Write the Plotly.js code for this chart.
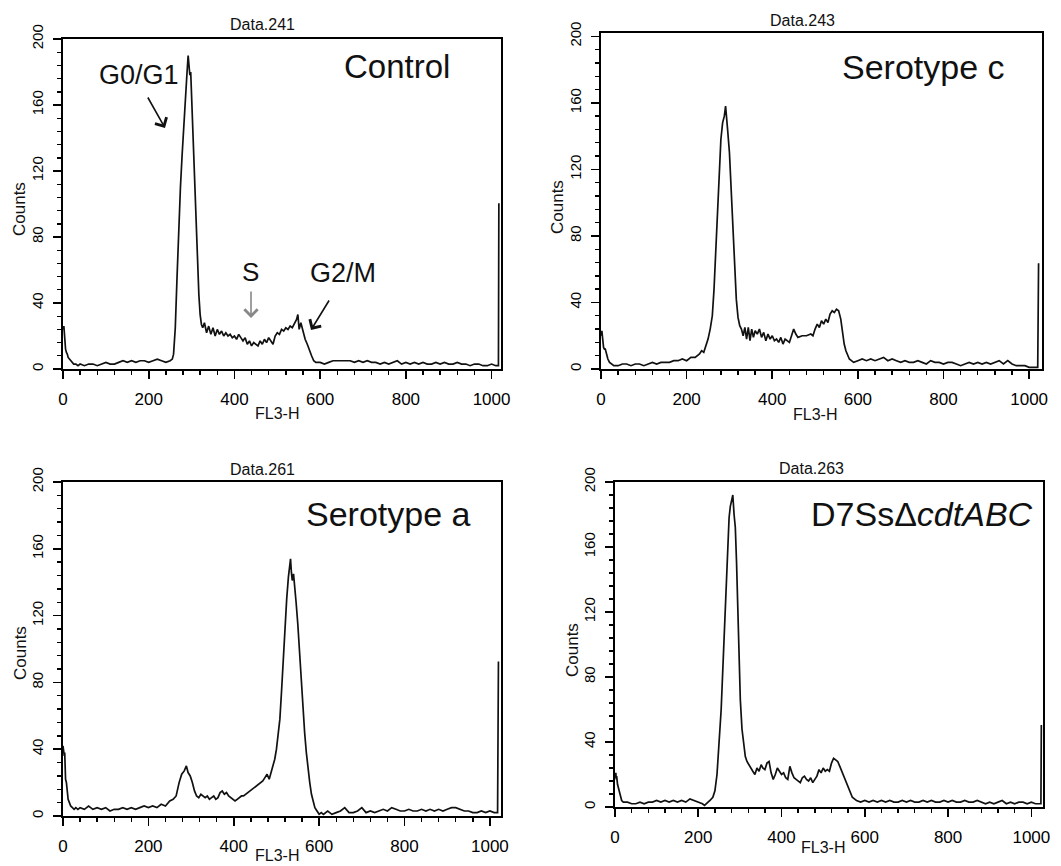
<!DOCTYPE html>
<html><head><meta charset="utf-8">
<script src="https://cdn.plot.ly/plotly-3.0.1.min.js"></script>
<style>html,body{margin:0;padding:0;background:#fff}#chart{width:1061px;height:866px}</style>
</head><body><div id="chart"></div>
<script>
// ---- Control (Data.241) ----
const ctrlX=[0,1,2,3,4,5,6,8,10,12,15,18,20,25,30,35,40,50,60,70,80,90,100,110,120,130,140,150,160,170,180,190,200,210,220,230,240,250,255,258,262,266,270,274,278,282,286,289,292,294,296,298,300,302,305,308,311,314,317,320,323,326,330,335,340,345,350,355,360,365,370,375,380,385,390,395,400,405,410,415,420,425,430,435,440,445,450,455,460,465,470,475,480,485,490,495,500,505,510,515,520,525,530,535,540,545,548,551,555,560,565,570,575,580,585,590,600,610,620,630,640,650,660,670,680,690,700,710,720,730,740,750,760,770,780,790,800,810,820,830,840,850,860,870,880,890,900,910,920,930,940,950,960,970,980,990,1000,1010,1016,1017,1019];
const ctrlY=[25,24,26,22,25,18,12,10,9,7,6,5,4,3,3,2,3,2,3,3,2,3,4,3,3,4,5,4,5,4,5,5,4,5,6,5,4,5,6,9,25,55,85,110,130,150,168,178,190,182,178,180,165,150,128,105,82,62,45,33,27,25,28,22,26,21,25,20,24,21,23,20,22,20,21,19,20,18,21,19,17,19,15,17,14,16,15,14,17,15,18,16,19,17,15,20,22,21,24,23,25,24,26,25,28,30,33,24,28,22,18,15,11,8,5,4,4,3,4,5,5,5,5,5,4,5,4,5,4,4,3,4,3,4,5,3,4,3,4,3,4,3,3,4,3,4,3,3,4,3,3,2,3,3,2,2,3,2,2,100,100];

// ---- Serotype c (Data.243) ----
const serocX=[0,1,2,3,4,5,6,8,10,13,16,20,25,30,40,50,60,70,80,90,100,110,120,130,140,150,160,170,180,190,200,210,220,230,235,240,245,250,255,260,264,268,272,276,280,284,288,291,293,296,300,304,308,312,316,320,324,328,332,336,340,344,348,352,356,360,365,370,375,380,385,390,395,400,405,410,415,420,425,430,435,440,445,450,455,460,470,480,490,495,500,505,510,515,520,525,530,535,540,545,550,555,560,564,568,572,576,580,585,590,600,610,620,630,640,650,660,670,680,690,700,710,720,730,740,750,760,770,780,790,800,810,820,830,840,850,860,870,880,890,900,910,920,930,940,950,960,970,980,990,1000,1010,1020,1022,1024];
const serocY=[22,20,23,19,21,15,13,12,12,9,6,4,3,2,2,3,3,2,3,3,2,3,4,3,4,4,4,5,5,6,5,7,7,9,11,10,14,18,24,32,48,70,97,120,138,148,152,158,150,143,130,108,84,60,42,31,26,24,20,25,18,25,17,24,19,23,21,24,19,22,17,21,18,20,17,18,16,19,15,18,17,16,20,24,21,19,20,20,21,20,24,27,25,29,27,30,28,33,35,34,36,35,30,22,15,11,8,6,5,4,5,6,5,6,5,6,7,5,6,5,4,5,4,4,5,4,3,5,4,4,3,4,4,3,2,3,4,3,4,3,4,3,4,5,3,5,3,2,2,2,1,1,1,63,63];

// ---- Serotype a (Data.261) ----
const seroaX=[0,1,2,3,4,5,6,8,10,12,15,18,22,26,30,35,40,50,60,70,80,90,100,110,120,130,140,150,160,170,180,190,200,210,220,230,240,250,258,265,272,278,284,289,293,298,303,308,313,318,323,328,333,338,343,348,353,358,363,368,373,378,383,388,393,398,403,408,413,418,423,428,433,438,443,448,453,458,463,468,473,478,483,488,492,496,500,504,508,512,516,520,524,528,531,533,535,537,540,543,546,550,554,558,562,566,570,574,578,582,586,590,595,600,605,610,620,630,640,650,660,670,680,690,700,710,720,730,740,750,760,770,780,790,800,810,820,830,840,850,860,870,880,890,900,910,920,930,940,950,960,970,980,990,1000,1010,1018,1020,1022];
const seroaY=[42,38,40,36,38,30,22,20,15,10,8,6,5,4,5,4,5,4,6,4,5,4,5,3,4,4,5,4,5,4,5,6,5,6,5,7,6,9,10,12,20,25,27,30,26,24,20,15,12,11,13,12,11,12,10,11,12,10,11,14,15,13,14,12,11,10,9,10,11,12,12,13,14,15,16,17,18,19,20,21,23,25,22,27,30,34,40,48,58,75,95,115,130,143,150,154,146,141,145,138,128,115,98,80,63,50,38,28,20,13,8,5,3,1,2,1,3,1,2,3,5,2,2,3,5,2,3,2,3,4,3,5,4,3,3,4,3,3,4,3,4,3,4,3,4,5,5,4,3,3,2,2,3,2,3,2,2,92,92];

// ---- D7SsΔcdtABC (Data.263) ----
const d7X=[0,1,2,3,4,6,8,10,13,16,20,30,40,50,60,70,80,90,100,110,120,130,140,150,160,170,180,190,200,210,215,220,228,235,240,245,250,255,259,263,267,271,274,277,280,283,286,289,292,295,298,301,305,309,313,317,321,326,331,336,341,346,351,355,360,365,370,375,380,385,390,395,400,405,410,415,420,425,430,435,440,445,450,455,460,465,470,475,480,485,490,495,500,505,510,515,520,525,530,535,540,545,550,555,560,565,570,575,580,590,600,610,620,630,640,650,660,670,680,690,700,710,720,730,740,750,760,770,780,790,800,810,820,830,840,850,860,870,880,890,900,910,920,930,940,950,960,970,980,990,1000,1010,1020,1023,1024,1026];
const d7Y=[20,18,21,17,19,14,12,10,6,4,3,3,2,2,3,2,3,3,4,3,4,3,4,3,4,3,5,4,3,2,1,2,4,6,10,20,38,60,85,110,140,165,178,185,190,192,180,172,150,120,90,66,48,38,31,28,26,24,22,20,24,22,26,24,23,27,28,21,17,20,24,22,20,21,18,17,25,21,18,17,16,15,18,19,17,16,18,15,17,19,23,21,24,22,23,22,27,30,29,28,25,22,19,15,12,9,6,5,4,3,4,3,4,3,4,3,4,3,3,4,3,4,3,3,4,3,4,3,3,4,3,4,3,3,4,3,3,4,3,2,3,2,3,4,2,3,2,3,3,2,3,2,2,2,50,50];

const W=1061,H=866;
const px=v=>v/W, py=v=>1-v/H;
const FONT='"Liberation Sans", Arial, sans-serif';
const NARROW='"Liberation Sans Narrow", "Liberation Sans", Arial, sans-serif';

const panels=[
  {x:ctrlX,y:ctrlY,title:'Data.241',L:63,R:501,T:39,B:369,xr:[0,1022],yr:[0,200],tt:[262,25],ct:[20,209],ft:[277,413]},
  {x:serocX,y:serocY,title:'Data.243',L:601,R:1042,T:33,B:369,xr:[0,1030],yr:[0,202],tt:[802,20],ct:[557,207],ft:[815,415]},
  {x:seroaX,y:seroaY,title:'Data.261',L:63,R:501,T:482,B:816,xr:[0,1026],yr:[0,200],tt:[262,469],ct:[20,653],ft:[277,855]},
  {x:d7X,y:d7Y,title:'Data.263',L:615,R:1043,T:482,B:807,xr:[0,1028],yr:[0,200],tt:[811,468],ct:[572,650],ft:[823,847]}
];

const data=[];
const layout={width:W,height:H,margin:{l:0,r:0,t:0,b:0},paper_bgcolor:'#fff',plot_bgcolor:'#fff',showlegend:false,annotations:[],font:{family:FONT,color:'#000'}};

panels.forEach((p,i)=>{
  const n=i===0?'':String(i+1);
  data.push({x:p.x,y:p.y,type:'scatter',mode:'lines',line:{color:'#111',width:1.7},xaxis:'x'+n,yaxis:'y'+n,hoverinfo:'skip'});
  layout['xaxis'+n]={domain:[px(p.L),px(p.R)],range:p.xr,anchor:'y'+n,showline:true,mirror:true,linecolor:'#000',linewidth:1.8,
    ticks:'outside',ticklen:8,tickwidth:1.6,tickcolor:'#000',tick0:0,dtick:200,ticklabelstandoff:6,
    minor:{dtick:40,ticks:'outside',ticklen:4,tickwidth:1.4,tickcolor:'#000'},
    showgrid:false,zeroline:false,tickfont:{family:FONT,size:17,color:'#000'},fixedrange:true};
  layout['yaxis'+n]={domain:[py(p.B),py(p.T)],range:p.yr,anchor:'x'+n,showline:true,mirror:true,linecolor:'#000',linewidth:1.8,
    ticks:'outside',ticklen:8,tickwidth:1.6,tickcolor:'#000',tick0:0,dtick:40,tickangle:-90,ticklabelstandoff:4,
    minor:{dtick:8,ticks:'outside',ticklen:4,tickwidth:1.4,tickcolor:'#000'},
    showgrid:false,zeroline:false,tickfont:{family:NARROW,size:15,color:'#000'},fixedrange:true};
  layout.annotations.push({xref:'paper',yref:'paper',x:px(p.tt[0]),y:py(p.tt[1]),text:p.title,showarrow:false,xanchor:'center',yanchor:'middle',font:{family:FONT,size:16,color:'#111'}});
  layout.annotations.push({xref:'paper',yref:'paper',x:px(p.ct[0]),y:py(p.ct[1]),text:'Counts',textangle:-90,showarrow:false,xanchor:'center',yanchor:'middle',font:{family:NARROW,size:17,color:'#111'}});
  layout.annotations.push({xref:'paper',yref:'paper',x:px(p.ft[0]),y:py(p.ft[1]),text:'FL3-H',showarrow:false,xanchor:'center',yanchor:'middle',font:{family:FONT,size:16,color:'#111'}});
});

// panel labels
const labels=[
  {t:'Control',x:397,y:67,s:33},
  {t:'G0/G1',x:139,y:75,s:27},
  {t:'S',x:250,y:272,s:26},
  {t:'G2/M',x:343,y:273,s:27},
  {t:'Serotype c',x:923,y:67,s:34},
  {t:'Serotype a',x:388,y:514,s:34},
  {t:'D7SsΔ<i>cdtABC</i>',x:922,y:514,s:34}
];
labels.forEach(l=>layout.annotations.push({xref:'paper',yref:'paper',x:px(l.x),y:py(l.y),text:l.t,showarrow:false,xanchor:'center',yanchor:'middle',font:{family:FONT,size:l.s,color:'#111'}}));

// arrows [tailX,tailY,headX,headY,color]
const arrows=[[147,96,165,128,'#111'],[251,290,251,318,'#888'],[330,299,311,330,'#111']];
arrows.forEach(a=>layout.annotations.push({xref:'paper',yref:'paper',x:px(a[2]),y:py(a[3]),ax:a[0]-a[2],ay:a[1]-a[3],axref:'pixel',ayref:'pixel',text:'',showarrow:true,arrowhead:4,arrowsize:1.6,arrowwidth:1.6,arrowcolor:a[4]}));

Plotly.newPlot('chart',data,layout,{staticPlot:true,displayModeBar:false});
</script></body></html>
